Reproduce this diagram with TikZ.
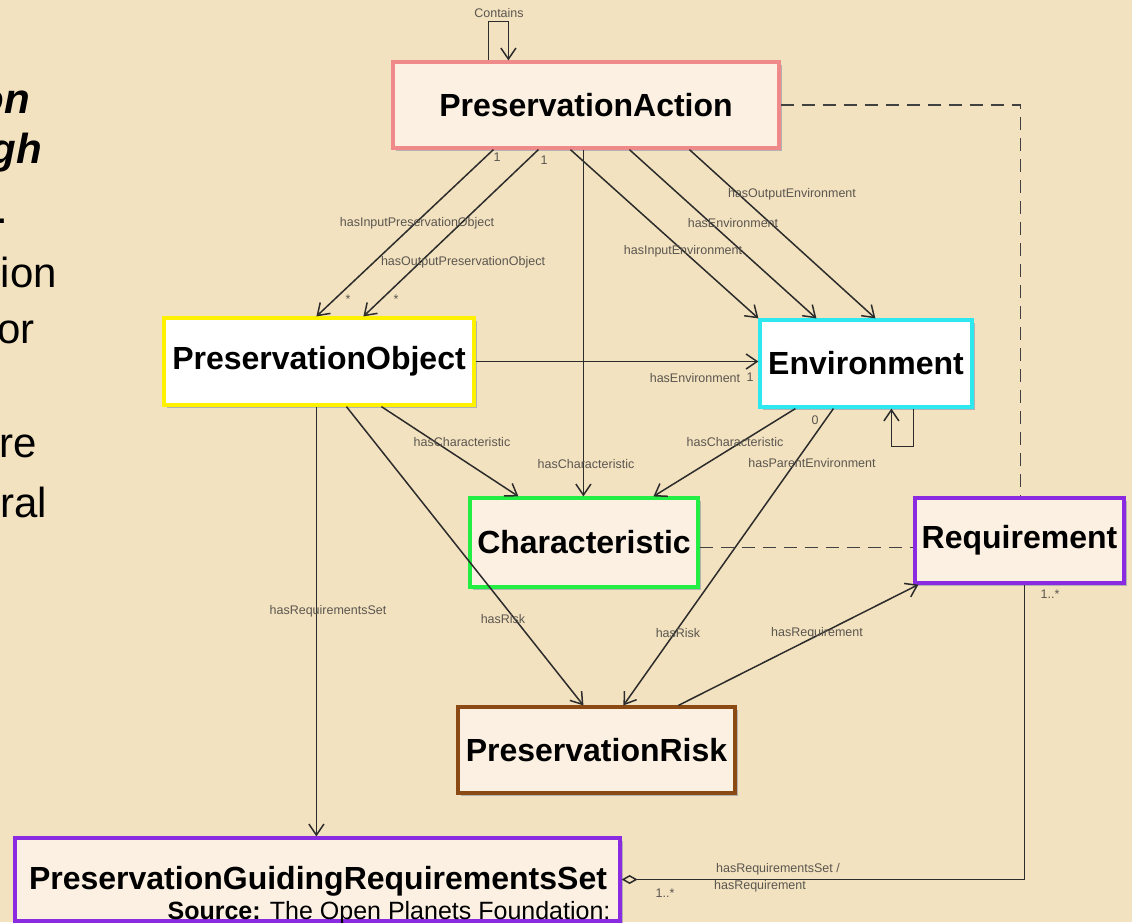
\documentclass[tikz,border=0pt]{standalone}
\usepackage{fontspec}
\setmainfont{Liberation Sans}
\usetikzlibrary{arrows.meta,shadows,calc}

\definecolor{paper}{HTML}{F3E2BF}
\definecolor{cream}{HTML}{FBF0E2}
\definecolor{edge}{HTML}{2C2C2C}
\definecolor{lbl}{HTML}{5A5650}
\definecolor{bdpink}{HTML}{F08A8A}
\definecolor{bdyellow}{HTML}{FFF200}
\definecolor{bdcyan}{HTML}{2EE8F0}
\definecolor{bdgreen}{HTML}{22EE44}
\definecolor{bdpurple}{HTML}{8A2BE2}
\definecolor{bdbrown}{HTML}{8B4A14}

\tikzset{
  cls/.style={draw, line width=3.2pt, inner sep=0pt, font=\fontsize{32}{36}\selectfont\bfseries,
    text=black, drop shadow={shadow xshift=2.5pt, shadow yshift=-3pt, fill=black!30, opacity=1}},
  assoc/.style={draw=edge, line width=1.5pt, -{Straight Barb[length=11pt,width=15pt]}},
  plain/.style={draw=edge, line width=1.5pt},
  dep/.style={draw=edge!90, line width=1.8pt, dash pattern=on 13pt off 8pt},
  elabel/.style={text=lbl, font=\fontsize{12.5}{14}\selectfont, inner sep=0pt},
  side/.style={font=\fontsize{42}{48}\selectfont, anchor=base east, inner sep=0pt}
}

\begin{document}
\begin{tikzpicture}[x=1pt, y=-1pt]
\useasboundingbox (0,0) rectangle (1132,922);
\clip (0,0) rectangle (1132,922);
\fill[paper] (0,0) rectangle (1132,922);

% fragments of the accompanying slide text
\node[side, font=\fontsize{42}{48}\selectfont\bfseries\itshape] (t1) at (30,113) {on};
\node[side, font=\fontsize{42}{48}\selectfont\bfseries\itshape] (t2) at (42,163) {gh};
\node[side] (t3) at (8,223) {.};
\node[side] (t4) at (57,287) {ion};
\node[side] (t5) at (35,343) {or};
\node[side] (t6) at (37,457) {re};
\node[side] (t7) at (47,517) {ral};

% classes
\node[cls, draw=bdpink, fill=cream, minimum width=386pt, minimum height=86pt] (pa) at (586,105) {PreservationAction};
\node[cls, draw=bdyellow, fill=white, minimum width=310pt, minimum height=87pt] (po) at (319,361.5) {PreservationObject};
\node[cls, draw=bdcyan, fill=white, minimum width=212pt, minimum height=87pt] (env) at (866,363.5) {Environment};
\node[cls, draw=bdgreen, fill=cream, minimum width=228pt, minimum height=89pt] (chr) at (584,542.5) {Characteristic};
\node[cls, draw=bdpurple, fill=cream, minimum width=209pt, minimum height=85pt] (req) at (1019.5,540.5) {Requirement};
\node[cls, draw=bdbrown, fill=cream, minimum width=277pt, minimum height=86pt] (risk) at (596.5,750) {PreservationRisk};
\node[cls, draw=bdpurple, fill=cream, minimum width=605pt, minimum height=83pt] (pgrs) at (317.5,879.5) {};
\node[font=\fontsize{32}{36}\selectfont\bfseries, inner sep=0pt] (pgrst) at (318,881) {PreservationGuidingRequirementsSet};
\node[font=\fontsize{25}{28}\selectfont, anchor=base, inner sep=0pt] (src) at (389,919) {\textbf{Source:} The Open Planets Foundation:};

% dependencies towards Requirement
\coordinate (ce) at ([yshift=-5pt]chr.east);
\draw[dep] (pa.east) -- ([xshift=107pt]req.north west |- pa.east) -- ([xshift=107pt]req.north west);
\draw[dep] (ce) -- (req.west |- ce);

% PreservationAction associations
\draw[assoc] ([xshift=97pt]pa.north west) -- ++(0,-39) -- ++(20,0) -- ([xshift=117pt]pa.north west);
\draw[assoc] ([xshift=102pt]pa.south west) -- ([xshift=154pt]po.north west);
\draw[assoc] ([xshift=147pt]pa.south west) -- ([xshift=201pt]po.north west);
\draw[assoc] ([xshift=192pt]pa.south west) -- ([xshift=192pt]pa.south west |- chr.north);
\draw[assoc] ([xshift=179pt]pa.south west) -- (env.north west);
\draw[assoc] ([xshift=238pt]pa.south west) -- ([xshift=58pt]env.north west);
\draw[assoc] ([xshift=298pt]pa.south west) -- ([xshift=117pt]env.north west);

% PreservationObject associations
\draw[assoc] (po.east) -- (env.west |- po.east);
\draw[assoc] ([xshift=219pt]po.south west) -- ([xshift=50pt]chr.north west);
\draw[assoc] ([xshift=184pt]po.south west) -- ([xshift=127pt]risk.north west);
\draw[assoc] ([xshift=154pt]po.south west) -- ([xshift=154pt]po.south west |- pgrs.north);

% Environment associations
\draw[assoc] ([xshift=37pt]env.south west) -- ([xshift=185pt]chr.north west);
\draw[assoc] ([xshift=75pt]env.south west) -- ([xshift=167pt]risk.north west);
\draw[assoc] ([xshift=155pt]env.south west) -- ++(0,38) -- ++(-22,0) -- ([xshift=133pt]env.south west);

% PreservationRisk and Requirement
\draw[assoc] ([xshift=222pt]risk.north west) -- ([xshift=5pt]req.south west);
\draw[plain, {Diamond[open,length=16pt,width=9pt]}-] (pgrs.east) -- ([xshift=111pt]req.south west |- pgrs.east) -- ([xshift=111pt]req.south west);

% association labels
\node[elabel] (l0) at (499,13) {Contains};
\node[elabel] (m1) at (497,157) {1};
\node[elabel] (m2) at (544,160) {1};
\node[elabel] (m3) at (348,299) {*};
\node[elabel] (m4) at (396,299) {*};
\node[elabel] (l1) at (417,223) {hasInputPreservationObject};
\node[elabel] (l2) at (463,262) {hasOutputPreservationObject};
\node[elabel] (l3) at (792,194) {hasOutputEnvironment};
\node[elabel] (l4) at (733,223) {hasEnvironment};
\node[elabel] (l5) at (683,251) {hasInputEnvironment};
\node[elabel] (l6) at (695,378) {hasEnvironment};
\node[elabel] (m5) at (750,377) {1};
\node[elabel] (l7) at (462,442) {hasCharacteristic};
\node[elabel] (l8) at (586,464) {hasCharacteristic};
\node[elabel] (l9) at (735,442) {hasCharacteristic};
\node[elabel] (m6) at (815,420) {0};
\node[elabel] (l10) at (812,463) {hasParentEnvironment};
\node[elabel] (l11) at (328,611) {hasRequirementsSet};
\node[elabel] (l12) at (503,619) {hasRisk};
\node[elabel] (l13) at (678,633) {hasRisk};
\node[elabel] (l14) at (817,633) {hasRequirement};
\node[elabel] (m7) at (1050,594) {1..*};
\node[elabel] (l15) at (778,869) {hasRequirementsSet /};
\node[elabel] (l16) at (760,886) {hasRequirement};
\node[elabel] (m8) at (665,893) {1..*};
\end{tikzpicture}
\end{document}
